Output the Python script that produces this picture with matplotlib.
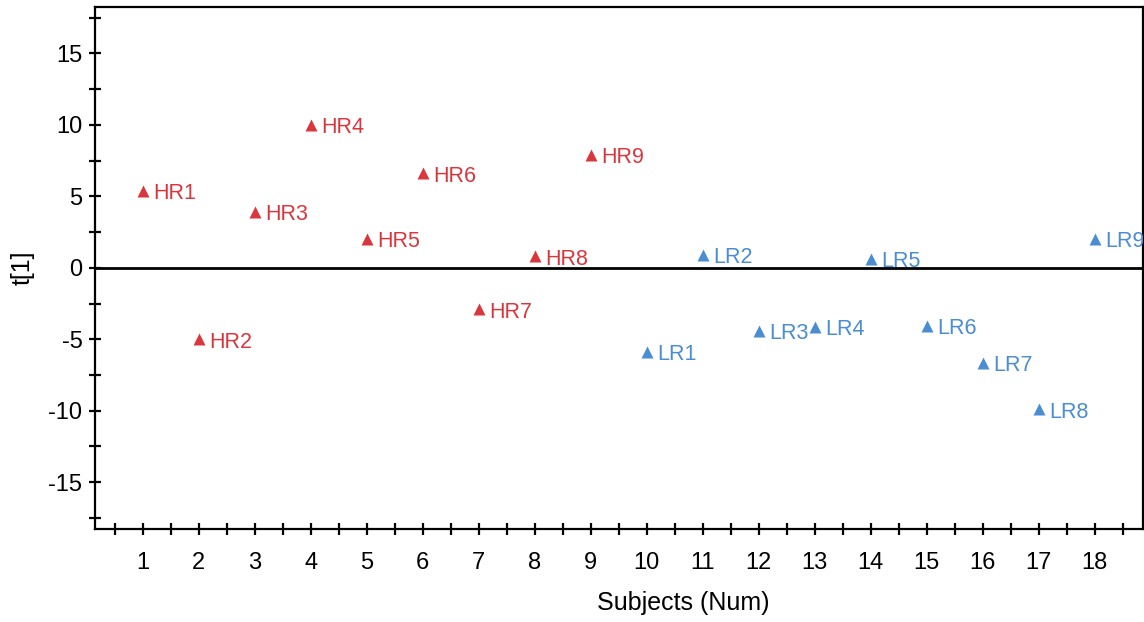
import matplotlib
matplotlib.use("Agg")
from matplotlib import pyplot as plt
from matplotlib.ticker import MultipleLocator, FuncFormatter

plt.rcParams['font.family'] = ['Liberation Sans', 'DejaVu Sans']

# 高风险组
hr_names = ["HR1", "HR2", "HR3", "HR4", "HR5", "HR6", "HR7", "HR8", "HR9"]
hr_x = [1, 2, 3, 4, 5, 6, 7, 8, 9]
hr_t = [5.4, -5.0, 3.9, 10.0, 2.0, 6.6, -2.9, 0.8, 7.9]

# 低风险组
lr_names = ["LR1", "LR2", "LR3", "LR4", "LR5", "LR6", "LR7", "LR8", "LR9"]
lr_x = [10, 11, 12, 13, 14, 15, 16, 17, 18]
lr_t = [-5.9, 0.9, -4.4, -4.15, 0.6, -4.05, -6.65, -9.9, 2.0]

red = "#D9363E"
blue = "#4A8DD3"

fig = plt.figure(figsize=(11.44, 6.22), dpi=100)
ax = fig.add_axes([0.083, 0.15, 0.916, 0.839])

ax.plot(hr_x, hr_t, "^", color=red, ms=8, mec="none")
ax.plot(lr_x, lr_t, "^", color=blue, ms=8, mec="none")

for n, x, y in zip(hr_names, hr_x, hr_t):
    ax.annotate(n, (x, y), xytext=(7.5, -2), textcoords="offset points",
                va="center", ha="left", color=red, fontsize=15.5,
                annotation_clip=False, clip_on=True)
for n, x, y in zip(lr_names, lr_x, lr_t):
    ax.annotate(n, (x, y), xytext=(7.5, -2), textcoords="offset points",
                va="center", ha="left", color=blue, fontsize=15.5,
                annotation_clip=False, clip_on=True)

# 零线
ax.axhline(0, color="black", lw=2)

ax.set_xlim(0.15, 18.86)
ax.set_ylim(-18.25, 18.25)

ax.xaxis.set_major_locator(MultipleLocator(1))
ax.xaxis.set_minor_locator(MultipleLocator(0.5))
ax.yaxis.set_major_locator(MultipleLocator(5))
ax.yaxis.set_minor_locator(MultipleLocator(2.5))
ax.yaxis.set_major_formatter(FuncFormatter(lambda v, p: "%d" % v))

ax.tick_params(axis="both", which="both", direction="inout", length=8,
               width=1.6, labelsize=17, top=False, right=False)
ax.tick_params(axis="x", which="major", pad=13)
ax.tick_params(axis="y", which="major", pad=5)

for s in ax.spines.values():
    s.set_linewidth(1.6)

ax.set_xlabel("Subjects (Num)", fontsize=18, va="center")
ax.set_ylabel("t[1]", fontsize=18, va="center")
ax.xaxis.set_label_coords(0.561, -0.142)
ax.yaxis.set_label_coords(-0.0687, 0.5)

fig.savefig("out.png", dpi=100)
